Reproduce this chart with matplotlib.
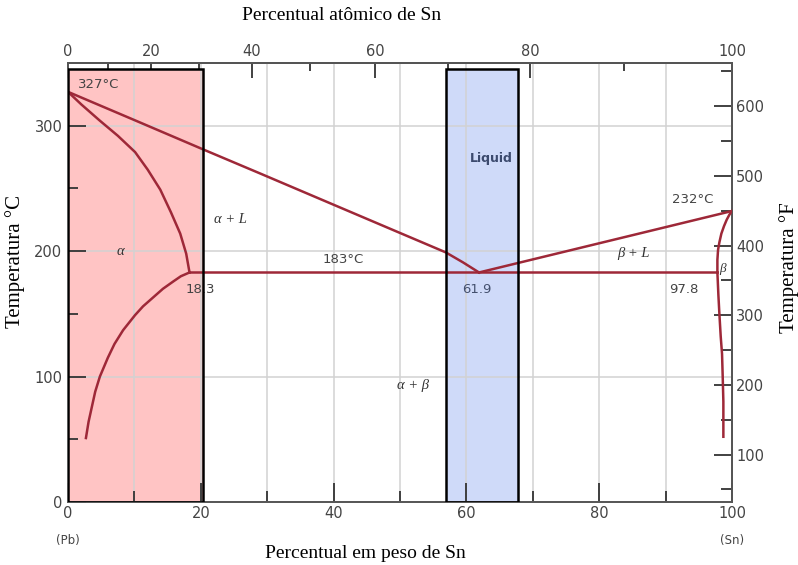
import numpy as np
import matplotlib
matplotlib.use('Agg')
import matplotlib.pyplot as plt
from matplotlib.patches import Rectangle
from matplotlib.ticker import FixedLocator

# Pb-Sn phase diagram (wt% Sn vs temperature in C)
liq_left_x = [0, 10, 20.4, 28.9, 40, 50, 56.9, 59.5, 61.9]
liq_left_y = [327, 304.5, 281, 262, 237, 214.5, 199, 191, 183]
liq_right_x = [61.9, 100]
liq_right_y = [183, 232]
sol_alpha_x = [0, 2.0, 4.8, 7.5, 10.1, 12.0, 13.9, 15.5, 16.9, 17.8, 18.3]
sol_alpha_y = [327, 317, 304, 292, 279, 265, 249, 231, 214, 198, 183]
solvus_alpha_x = [18.3, 17.0, 15.9, 14.3, 12.8, 11.3, 10.1, 8.3, 7.0, 6.0, 4.8, 4.1, 3.6, 3.1, 2.7]
solvus_alpha_y = [183, 180, 176, 170, 163, 156, 149, 137, 126, 115, 100, 88, 76, 64, 51]
sol_beta_x = [97.8, 97.8, 97.9, 98.1, 98.4, 98.8, 99.2, 99.6, 100]
sol_beta_y = [183, 193, 201, 207, 214, 220, 225, 229, 232]
solvus_beta_x = [97.8, 97.85, 97.95, 98.1, 98.3, 98.5, 98.6, 98.7, 98.7]
solvus_beta_y = [183, 177, 165, 150, 132, 118, 100, 80, 52]
eutectic_x = [18.3, 97.8]
eutectic_T = 183

# highlighted composition bands (wt% Sn, top temperature)
red_band = (0, 20.4, 345)
blue_band = (56.9, 67.8, 345)

bottom_ticks = [0, 20, 40, 60, 80, 100]
top_ticks = [0, 20, 40, 60, 80, 100]
left_ticks = [0, 100, 200, 300]
right_ticks = [100, 200, 300, 400, 500, 600]

M_SN = 118.71
M_PB = 207.2


def wt_to_at(w):
    w = np.asarray(w, dtype=float)
    n_sn = w / M_SN
    n_pb = (100 - w) / M_PB
    return 100 * n_sn / (n_sn + n_pb)


def at_to_wt(a):
    a = np.asarray(a, dtype=float)
    m_sn = a * M_SN
    m_pb = (100 - a) * M_PB
    return 100 * m_sn / (m_sn + m_pb)


def c_to_f(c):
    return np.asarray(c, dtype=float) * 9 / 5 + 32


def f_to_c(f):
    return (np.asarray(f, dtype=float) - 32) * 5 / 9


line_color = '#9e2838'
spine_color = '#555555'
tick_font = dict(family='DejaVu Sans', size=10.5, color='#444444')

fig = plt.figure(figsize=(7.98, 5.65), dpi=100)
ax = fig.add_axes([68/798, 1 - 502/565, (732 - 68)/798, (502 - 63)/565])
ax.set_xlim(0, 100)
ax.set_ylim(0, 350)

# bands
for (x0, x1, top), col in [(red_band, '#ffc4c4'), (blue_band, '#cfdaf9')]:
    ax.add_patch(Rectangle((x0, 0), x1 - x0, top, facecolor=col, edgecolor='none', zorder=0.2))
    ax.add_patch(Rectangle((x0, 0), x1 - x0, top, facecolor='none', edgecolor='black', lw=1.8, zorder=4))

ax.xaxis.set_major_locator(FixedLocator(bottom_ticks))
ax.xaxis.set_minor_locator(FixedLocator([10, 30, 50, 70, 90]))
ax.yaxis.set_major_locator(FixedLocator(left_ticks))
ax.yaxis.set_minor_locator(FixedLocator([50, 150, 250]))
ax.grid(True, which='major', color='#d2d2d2', lw=1.1)
ax.grid(True, which='minor', axis='x', color='#d2d2d2', lw=1.1)
ax.set_axisbelow(True)

for s in ax.spines.values():
    s.set_color(spine_color)
    s.set_linewidth(1.4)

ax.tick_params(axis='x', which='major', direction='in', length=14, width=1.3, color='#333333', pad=3)
ax.tick_params(axis='x', which='minor', direction='in', length=8, width=1.3, color='#333333')
ax.tick_params(axis='y', which='major', direction='in', length=13, width=1.3, color='#333333', pad=4)
ax.tick_params(axis='y', which='minor', direction='in', length=7, width=1.3, color='#333333')
ax.tick_params(top=False, right=False)
for lab in ax.get_xticklabels() + ax.get_yticklabels():
    lab.set(**tick_font)

# phase boundaries
lw = 1.8
ax.plot(liq_left_x, liq_left_y, color=line_color, lw=lw, zorder=3)
ax.plot(liq_right_x, liq_right_y, color=line_color, lw=lw, zorder=3)
ax.plot(sol_alpha_x, sol_alpha_y, color=line_color, lw=lw, zorder=3)
ax.plot(solvus_alpha_x, solvus_alpha_y, color=line_color, lw=lw, zorder=3)
ax.plot(sol_beta_x, sol_beta_y, color=line_color, lw=lw, zorder=3)
ax.plot(solvus_beta_x, solvus_beta_y, color=line_color, lw=lw, zorder=3)
ax.plot(eutectic_x, [eutectic_T, eutectic_T], color=line_color, lw=lw, zorder=3)

# annotations
sans = dict(family='DejaVu Sans', size=9.5, color='#444444')
serif_it = dict(family='Liberation Serif', size=10.5, style='italic', color='#333333')
ax.text(1.5, 333, '327°C', ha='left', va='center', **sans)
ax.text(24.5, 225, 'α + L', ha='center', va='center', **serif_it)
ax.text(7.9, 200, 'α', ha='center', va='center', **serif_it)
ax.text(19.9, 169.5, '18.3', ha='center', va='center', **sans)
ax.text(41.5, 193, '183°C', ha='center', va='center', **sans)
ax.text(63.8, 274, 'Liquid', ha='center', va='center', family='DejaVu Sans', size=9,
        weight='bold', color='#3c4a6e')
ax.text(61.5, 169.5, '61.9', ha='center', va='center', family='DejaVu Sans', size=9.5, color='#44506e')
ax.text(52, 93, 'α + β', ha='center', va='center', **serif_it)
ax.text(85.1, 198, 'β + L', ha='center', va='center', **serif_it)
ax.text(94.1, 241, '232°C', ha='center', va='center', **sans)
ax.text(92.7, 169.5, '97.8', ha='center', va='center', **sans)
ax.text(98.5, 186, 'β', ha='center', va='center', family='Liberation Serif', size=9.5,
        style='italic', color='#333333')

# (Pb) / (Sn) under the axis ends
ax.text(0, -30.5, '(Pb)', ha='center', va='center', **dict(sans, size=8.5))
ax.text(100, -30.5, '(Sn)', ha='center', va='center', **dict(sans, size=8.5))

# top axis: atomic percent
secx = ax.secondary_xaxis('top', functions=(wt_to_at, at_to_wt))
secx.xaxis.set_major_locator(FixedLocator(top_ticks))
secx.xaxis.set_minor_locator(FixedLocator([10, 30, 50, 70, 90]))
secx.tick_params(which='major', direction='in', length=11, width=1.3, color='#333333', pad=3)
secx.tick_params(which='minor', direction='in', length=6, width=1.3, color='#333333')
secx.spines['top'].set_color(spine_color)
secx.spines['top'].set_linewidth(1.4)
for lab in secx.get_xticklabels():
    lab.set(**tick_font)

# right axis: Fahrenheit
secy = ax.secondary_yaxis('right', functions=(c_to_f, f_to_c))
secy.yaxis.set_major_locator(FixedLocator(right_ticks))
secy.yaxis.set_minor_locator(FixedLocator([50, 150, 250, 350, 450, 550, 650]))
secy.tick_params(which='major', direction='in', length=13, width=1.3, color='#333333', pad=3)
secy.tick_params(which='minor', direction='in', length=8, width=1.3, color='#333333')
secy.spines['right'].set_color(spine_color)
secy.spines['right'].set_linewidth(1.4)
for lab in secy.get_yticklabels():
    lab.set(**tick_font)

# axis titles
title_font = dict(family='Liberation Serif', size=14, color='black')
fig.text(342/798, 1 - 16/565, 'Percentual atômico de Sn', ha='center', va='center', **title_font)
fig.text(365/798, 1 - 553/565, 'Percentual em peso de Sn', ha='center', va='center', **title_font)
fig.text(15/798, 1 - 262/565, 'Temperatura °C', rotation=90, ha='center', va='center',
         **dict(title_font, size=15))
fig.text(789/798, 1 - 268/565, 'Temperatura °F', rotation=90, ha='center', va='center',
         **dict(title_font, size=15))

fig.savefig('out.png', dpi=100)
